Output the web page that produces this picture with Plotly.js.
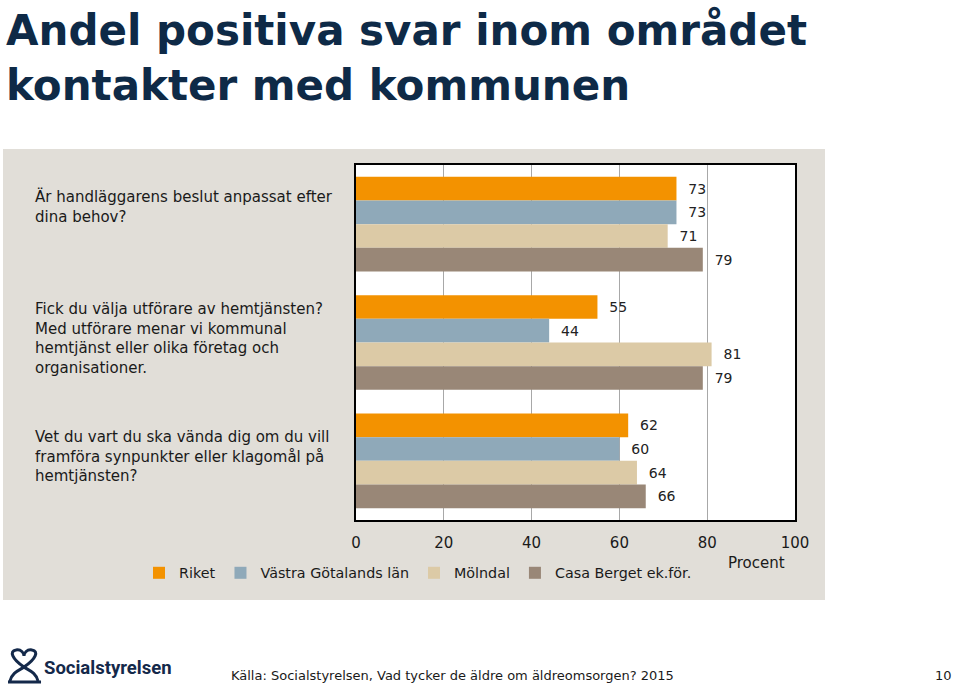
<!DOCTYPE html>
<html><head><meta charset="utf-8">
<script src="https://cdn.plot.ly/plotly-3.0.1.min.js"></script>
<style>html,body{margin:0;padding:0;background:#fff}#c{width:960px;height:688px}</style>
</head><body><div id="c"></div>
<script>
const categories = [
  "Är handläggarens beslut anpassat efter<br>dina behov?",
  "Fick du välja utförare av hemtjänsten?<br>Med utförare menar vi kommunal<br>hemtjänst eller olika företag och<br>organisationer.",
  "Vet du vart du ska vända dig om du vill<br>framföra synpunkter eller klagomål på<br>hemtjänsten?"
];
const seriesNames = ["Riket", "Västra Götalands län", "Mölndal", "Casa Berget ek.för."];
const riket   = [73, 55, 62];
const vastra  = [73, 44, 60];
const molndal = [71, 81, 64];
const casa    = [79, 79, 66];
const xTicks = [0, 20, 40, 60, 80, 100];

const colors = ["#f39200", "#8fa9b9", "#dccaa6", "#998777"];
const FONT = "DejaVu Sans, sans-serif";

// geometry in pixels
const W = 960, H = 688;
const PL = 356, PR = 795, PT = 165, PB = 520;
const px = x => (x - PL) / (PR - PL);
const py = y => (PB - y) / (PB - PT);

const values = [riket, vastra, molndal, casa];
const traces = values.map((v, i) => ({
  type: "bar", orientation: "h", name: seriesNames[i],
  x: v, y: categories,
  marker: {color: colors[i], line: {width: 0}},
  texttemplate: "\u00a0\u00a0%{x}",
  textposition: "outside", constraintext: "none", cliponaxis: false,
  textfont: {family: FONT, size: 14, color: "#222"},
  hoverinfo: "skip"
}));

const labelShift = [18, 4, 4];
const annotations = categories.map((c, i) => ({
  xref: "paper", yref: "y", x: px(33), y: c, xanchor: "left", yanchor: "middle",
  align: "left", text: c, showarrow: false, yshift: labelShift[i],
  font: {family: FONT, size: 15, color: "#1a1a1a"}
}));
annotations.push({xref: "paper", yref: "paper", x: px(4), y: py(4), xanchor: "left", yanchor: "top",
  align: "left", text: "<b>Andel positiva svar inom området<br>kontakter med kommunen</b>", showarrow: false,
  font: {family: FONT, size: 42, color: "#0e2a47"}});
annotations.push({xref: "paper", yref: "paper", x: px(756), y: py(563), xanchor: "center", yanchor: "middle",
  text: "Procent", showarrow: false, font: {family: FONT, size: 15, color: "#1a1a1a"}});
annotations.push({xref: "paper", yref: "paper", x: px(42), y: py(668), xanchor: "left", yanchor: "middle",
  text: "<b>Socialstyrelsen</b>", showarrow: false,
  font: {family: "Liberation Sans Narrow, Roboto, sans-serif", size: 18.5, color: "#14294a"}});
annotations.push({xref: "paper", yref: "paper", x: px(229), y: py(675), xanchor: "left", yanchor: "middle",
  text: "Källa: Socialstyrelsen, Vad tycker de äldre om äldreomsorgen? 2015", showarrow: false,
  font: {family: FONT, size: 13, color: "#1a1a1a"}});
annotations.push({xref: "paper", yref: "paper", x: px(954), y: py(675), xanchor: "right", yanchor: "middle",
  text: "10", showarrow: false, font: {family: FONT, size: 13, color: "#1a1a1a"}});

function pathPx(cmds) {
  return cmds.map(c => typeof c === "string" ? c : (px(c[0]).toFixed(4) + "," + py(c[1]).toFixed(4))).join(" ");
}
const logoPath1 = pathPx(["M", [24, 667], "C", [12, 659], [9, 651], [16, 650], "C", [21, 649], [24, 653], [24, 656],
  "C", [24, 653], [27, 649], [32, 650], "C", [39, 651], [36, 659], [24, 667]]);
const logoPath2 = pathPx(["M", [10, 681], "C", [12, 672], [20, 670], [24, 667], "C", [28, 670], [36, 672], [38, 681]]);
const logoPath3 = pathPx(["M", [8, 682], "L", [41, 682]]);

const shapes = [
  {type: "rect", xref: "paper", yref: "paper", x0: px(3), x1: px(825), y0: py(600), y1: py(149),
   fillcolor: "#e1ded8", line: {width: 0}, layer: "below"},
  {type: "rect", xref: "paper", yref: "paper", x0: 0, x1: 1, y0: 0, y1: 1,
   fillcolor: "#ffffff", line: {width: 0}, layer: "below"},
  {type: "path", xref: "paper", yref: "paper", path: logoPath1, line: {color: "#14294a", width: 3}},
  {type: "path", xref: "paper", yref: "paper", path: logoPath2, line: {color: "#14294a", width: 3}},
  {type: "path", xref: "paper", yref: "paper", path: logoPath3, line: {color: "#14294a", width: 3}}
];

const layout = {
  width: W, height: H,
  margin: {l: PL, r: W - PR, t: PT, b: H - PB, pad: 0},
  paper_bgcolor: "#ffffff", plot_bgcolor: "rgba(0,0,0,0)",
  barmode: "group", bargap: 0.2, bargroupgap: 0,
  showlegend: true,
  legend: {orientation: "h", x: px(139), xanchor: "left", y: py(573), yanchor: "middle",
    font: {family: FONT, size: 14.3, color: "#1a1a1a"}, bgcolor: "rgba(0,0,0,0)", traceorder: "normal",
    itemwidth: 30},
  xaxis: {range: [0, 100], tickvals: xTicks, ticktext: xTicks.map(String), showgrid: true,
    gridcolor: "#a8a8a8", gridwidth: 1, zeroline: false, showline: true, mirror: true,
    linecolor: "#000", linewidth: 2, ticks: "", ticklabelstandoff: 8,
    tickfont: {family: FONT, size: 15, color: "#1a1a1a"}, fixedrange: true},
  yaxis: {type: "category", categoryorder: "array", categoryarray: categories, autorange: "reversed",
    showticklabels: false, showgrid: false, zeroline: false, showline: true, mirror: true,
    linecolor: "#000", linewidth: 2, ticks: "", fixedrange: true},
  annotations: annotations, shapes: shapes
};

Plotly.newPlot("c", traces, layout, {displayModeBar: false, staticPlot: true});
</script></body></html>
